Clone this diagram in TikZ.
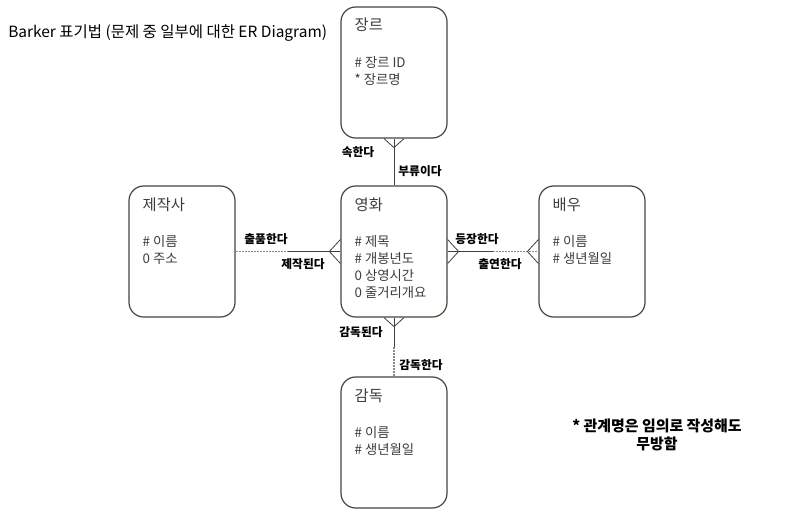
\documentclass[tikz,border=0pt]{standalone}
\usepackage{fontspec}
\setmainfont{Noto Sans CJK KR}
\usetikzlibrary{positioning}
\definecolor{boxline}{HTML}{45453A}
\definecolor{attrtext}{HTML}{3C3C3C}
\definecolor{relline}{HTML}{404040}
\definecolor{dashline}{HTML}{8A8A8A}
\tikzset{
    entity/.style={draw=boxline, line width=0.9pt, rounded corners=11pt,
        minimum width=79.5pt, minimum height=98.25pt, inner sep=0pt},
    entname/.style={anchor=west, inner sep=0pt, text=attrtext,
        font=\fontsize{11.5}{13}\selectfont},
    attrs/.style={anchor=north west, inner sep=0pt, align=left, text=attrtext,
        font=\fontsize{10}{12.75}\selectfont},
    rel/.style={draw=relline, line width=0.6pt},
    reldash/.style={draw=dashline, line width=0.9pt, dash pattern=on 1.5pt off 0.75pt},
    rellabel/.style={inner sep=0pt, font=\bfseries\fontsize{8.8}{10}\selectfont}
}
\begin{document}
\begin{tikzpicture}[x=0.75pt, y=-0.75pt, node distance=134.25pt]
    \useasboundingbox (0,0) rectangle (802,515);
    % entities
    \node[entity] (genre) at (394,72.5) {};
    \node[entity, below of=genre] (movie) {};
    \node[entity, node distance=159pt, left of=movie] (maker) {};
    \node[entity, node distance=148.5pt, right of=movie] (actor) {};
    \node[entity, node distance=143.25pt, below of=movie] (director) {};
    % entity texts
    \node[entname] (genre name) at ([shift={(14,18)}]genre.north west) {장르};
    \node[attrs] (genre attr) at ([shift={(14,50)}]genre.north west) {\# 장르 ID\\* 장르명};
    \node[entname] (movie name) at ([shift={(14,19)}]movie.north west) {영화};
    \node[attrs] (movie attr) at ([shift={(14,50)}]movie.north west)
        {\# 제목\\\# 개봉년도\\0 상영시간\\0 줄거리개요};
    \node[entname] (maker name) at ([shift={(14,19)}]maker.north west) {제작사};
    \node[attrs] (maker attr) at ([shift={(14,50)}]maker.north west) {\# 이름\\0 주소};
    \node[entname] (actor name) at ([shift={(14,19)}]actor.north west) {배우};
    \node[attrs] (actor attr) at ([shift={(14,50)}]actor.north west) {\# 이름\\\# 생년월일};
    \node[entname] (director name) at ([shift={(14,19)}]director.north west) {감독};
    \node[attrs] (director attr) at ([shift={(14,50)}]director.north west) {\# 이름\\\# 생년월일};
    % relationships
    \draw[rel] (genre) -- (movie);
    \path (maker) -- coordinate[pos=0.5] (maker mid) (movie);
    \draw[reldash] (maker) -- (maker mid);
    \draw[rel] (maker mid) -- (movie);
    \path (movie) -- coordinate[pos=0.5] (actor mid) (actor);
    \draw[rel] (movie) -- (actor mid);
    \draw[reldash] (actor mid) -- (actor);
    \path (movie) -- coordinate[pos=0.5] (director mid) (director);
    \draw[rel] (movie) -- (director mid);
    \draw[reldash] (director mid) -- (director);
    % crow's feet
    \draw[rel] ([shift={(-10,0)}]genre.south) -- ([shift={(0,9)}]genre.south) -- ([shift={(10,0)}]genre.south);
    \draw[rel] ([shift={(-10,0)}]movie.south) -- ([shift={(0,9)}]movie.south) -- ([shift={(10,0)}]movie.south);
    \draw[rel] ([shift={(0,-12)}]movie.west) -- ([shift={(-11,0)}]movie.west) -- ([shift={(0,12)}]movie.west);
    \draw[rel] ([shift={(0,-12)}]movie.east) -- ([shift={(11,0)}]movie.east) -- ([shift={(0,12)}]movie.east);
    \draw[rel] ([shift={(0,-12)}]actor.west) -- ([shift={(-11,0)}]actor.west) -- ([shift={(0,12)}]actor.west);
    % relationship names
    \node[rellabel] (genre rel a) at (358,152) {속한다};
    \node[rellabel] (genre rel b) at (420,171) {부류이다};
    \node[rellabel] (maker rel a) at (266,239) {출품한다};
    \node[rellabel] (maker rel b) at (303,264) {제작된다};
    \node[rellabel] (actor rel a) at (477,239) {등장한다};
    \node[rellabel] (actor rel b) at (500,264) {출연한다};
    \node[rellabel] (director rel a) at (361,332) {감독된다};
    \node[rellabel] (director rel b) at (421,365) {감독한다};
    % title and note
    \node[anchor=west, inner sep=0pt, font=\fontsize{11.6}{14}\selectfont] (title) at (8,33)
        {Barker 표기법 (문제 중 일부에 대한 ER Diagram)};
    \node[align=center, inner sep=0pt, font=\bfseries\fontsize{11.2}{13.5}\selectfont] (note) at (657,435)
        {* 관계명은 임의로 작성해도\\무방함};
\end{tikzpicture}
\end{document}
